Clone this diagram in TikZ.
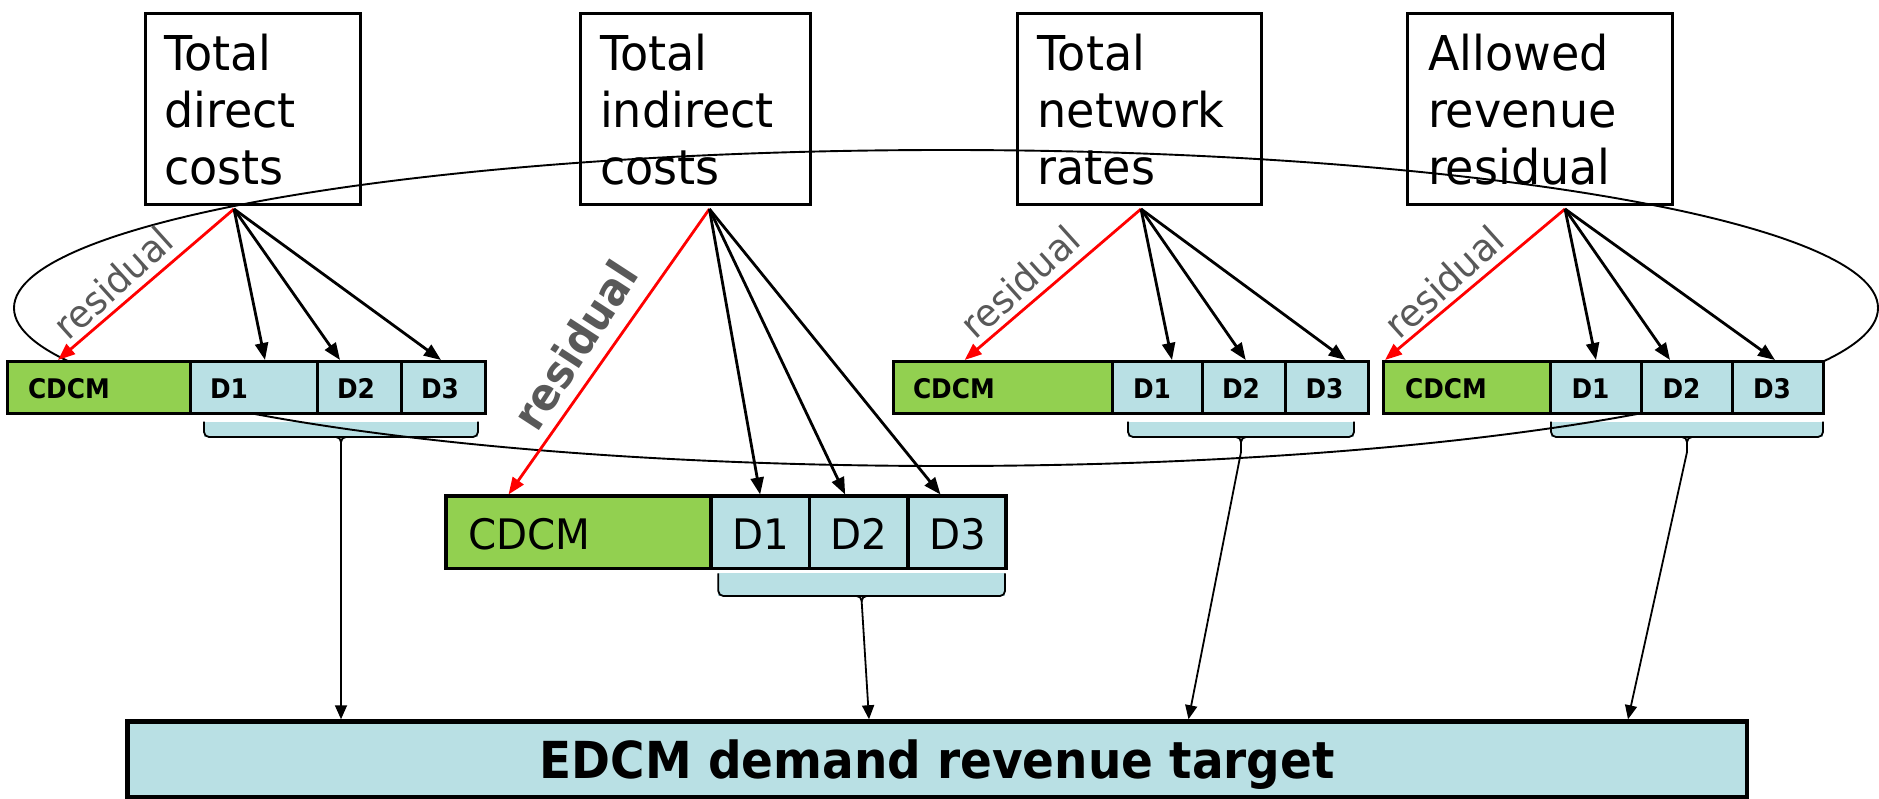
\documentclass[tikz,border=0pt]{standalone}
\usepackage{fontspec}
\setmainfont{DejaVu Sans}[UprightFeatures={FakeStretch=0.96}, BoldFeatures={FakeStretch=0.92}]
\usetikzlibrary{arrows.meta}
\definecolor{cellgreen}{RGB}{146,208,80}
\definecolor{cellblue}{RGB}{185,224,228}
\definecolor{labelgray}{RGB}{89,89,89}
\definecolor{arrowred}{RGB}{255,0,0}

\begin{document}
\begin{tikzpicture}[x=1pt,y=-1pt,
  costbox/.style={draw, line width=3pt, anchor=north west, outer sep=0pt,
    minimum height=191pt, inner ysep=0pt, align=left,
    font=\fontsize{48}{56.7}\selectfont},
  cell/.style={draw, anchor=north west, outer sep=0pt, inner ysep=0pt,
    align=left, text depth=0pt},
  smallbar/.style={cell, line width=3pt, minimum height=51.5pt,
    text height=22pt, font=\fontsize{27}{30}\selectfont\bfseries},
  bigbar/.style={cell, line width=3.2pt, minimum height=72.3pt,
    text height=33.7pt, font=\fontsize{42}{46}\selectfont},
  cdcm/.style={fill=cellgreen},
  dcell/.style={fill=cellblue},
  bracearea/.style={fill=cellblue, anchor=north west, outer sep=0pt, inner sep=0pt},
  bracket/.style={line width=1.8pt, rounded corners=5pt},
  fan/.style={line width=2.8pt, -{Triangle[length=17pt,width=13pt]}},
  resarrow/.style={fan, draw=arrowred, fill=arrowred},
  down/.style={line width=1.8pt, -{Triangle[length=14pt,width=12pt]}},
  smalllabel/.style={text=labelgray, inner sep=0pt, font=\fontsize{38}{42}\selectfont},
  biglabel/.style={text=labelgray, inner sep=0pt, font=\fontsize{45}{50}\selectfont\bfseries},
]
\useasboundingbox (0,0) rectangle (1879,799);

% cost sources along the top
\node[costbox, minimum width=215pt, text width=177pt, inner xsep=19pt] (box1) at (145,14) {Total\\direct\\costs};
\node[costbox, minimum width=230pt, text width=190pt, inner xsep=20pt] (box2) at (580,14) {Total\\indirect\\costs};
\node[costbox, minimum width=244pt, text width=203pt, inner xsep=20.5pt] (box3) at (1017,14) {Total\\network\\rates};
\node[costbox, minimum width=265pt, text width=223pt, inner xsep=21pt] (box4) at (1407,14) {Allowed\\revenue\\residual};

% shaded brackets under the D1--D3 cells
\node[bracearea, minimum width=274pt, minimum height=15.3pt] (br1) at (204,421.7) {};
\node[bracearea, minimum width=286.7pt, minimum height=22.7pt] (br2) at (718.3,573.3) {};
\node[bracearea, minimum width=226pt, minimum height=15.3pt] (br3) at (1128,421.7) {};
\node[bracearea, minimum width=272pt, minimum height=15.3pt] (br4) at (1551,421.7) {};
\foreach \b in {br1,br2,br3,br4}{
  \draw[bracket] (\b.north west) -- (\b.south west) -- (\b.south east) -- (\b.north east);
  \draw[line width=1.8pt] ([xshift=-5pt]\b.south) to[out=0,in=90] ([yshift=-5pt]\b.south)
        to[out=90,in=180] ([xshift=5pt]\b.south);
}

% loop tying the four allocations together
\draw[line width=1.9pt] (946,308) ellipse [x radius=932pt, y radius=158pt];

% allocation bars
\node[smallbar, cdcm, minimum width=183pt, text width=141pt, inner xsep=21pt] (b1c) at (7,361.5) {CDCM};
\node[smallbar, dcell, minimum width=127pt, text width=87pt, inner xsep=20pt] (b1d1) at (b1c.north east) {D1};
\node[smallbar, dcell, minimum width=84pt, text width=44pt, inner xsep=20pt] (b1d2) at (b1d1.north east) {D2};
\node[smallbar, dcell, minimum width=84pt, text width=44pt, inner xsep=20pt] (b1d3) at (b1d2.north east) {D3};

\node[bigbar, cdcm, minimum width=265pt, text width=221pt, inner xsep=22pt] (b2c) at (446,496) {CDCM};
\node[bigbar, dcell, minimum width=98.3pt, text width=56.3pt, inner xsep=21pt] (b2d1) at (b2c.north east) {D1};
\node[bigbar, dcell, minimum width=98.7pt, text width=56.7pt, inner xsep=21pt] (b2d2) at (b2d1.north east) {D2};
\node[bigbar, dcell, minimum width=98pt, text width=56pt, inner xsep=21pt] (b2d3) at (b2d2.north east) {D3};

\node[smallbar, cdcm, minimum width=219pt, text width=179pt, inner xsep=20pt] (b3c) at (893,361.5) {CDCM};
\node[smallbar, dcell, minimum width=90pt, text width=48pt, inner xsep=21pt] (b3d1) at (b3c.north east) {D1};
\node[smallbar, dcell, minimum width=83.5pt, text width=43.5pt, inner xsep=20pt] (b3d2) at (b3d1.north east) {D2};
\node[smallbar, dcell, minimum width=82.5pt, text width=42.5pt, inner xsep=20pt] (b3d3) at (b3d2.north east) {D3};

\node[smallbar, cdcm, minimum width=167pt, text width=124pt, inner xsep=21.5pt] (b4c) at (1383.5,361.5) {CDCM};
\node[smallbar, dcell, minimum width=91pt, text width=49pt, inner xsep=21pt] (b4d1) at (b4c.north east) {D1};
\node[smallbar, dcell, minimum width=90.5pt, text width=48.5pt, inner xsep=21pt] (b4d2) at (b4d1.north east) {D2};
\node[smallbar, dcell, minimum width=91.5pt, text width=49.5pt, inner xsep=21pt] (b4d3) at (b4d2.north east) {D3};

% demand revenue target
\node[draw, line width=4.5pt, fill=cellblue, anchor=north west, outer sep=0pt, inner sep=0pt,
      minimum width=1619.5pt, minimum height=76pt, text height=37.2pt, text depth=0pt,
      font=\fontsize{51}{56}\selectfont\bfseries] (edcm) at (127.5,721.5) {EDCM demand revenue target};

% fan origins under each source
\coordinate (f1) at ([xshift=-18.5pt,yshift=-4pt]box1.south);
\coordinate (f2) at ([xshift=14.4pt,yshift=-4pt]box2.south);
\coordinate (f3) at ([xshift=2pt,yshift=-4pt]box3.south);
\coordinate (f4) at ([xshift=25.5pt,yshift=-4pt]box4.south);

% allocations from each source
\draw[resarrow] (f1) -- ([xshift=-40.5pt,yshift=1.5pt]b1c.north);
\draw[fan] (f1) -- ([xshift=11.5pt,yshift=1.5pt]b1d1.north);
\draw[fan] (f1) -- ([xshift=-19pt,yshift=1.5pt]b1d2.north);
\draw[fan] (f1) -- ([xshift=-2pt,yshift=1.5pt]b1d3.north);

\draw[resarrow] (f2) -- ([xshift=-70pt,yshift=1.5pt]b2c.north);
\draw[fan] (f2) -- ([yshift=1.5pt]b2d1.north);
\draw[fan] (f2) -- ([xshift=-13.5pt,yshift=1.5pt]b2d2.north);
\draw[fan] (f2) -- ([xshift=-16.5pt,yshift=1.5pt]b2d3.north);

\draw[resarrow] (f3) -- ([xshift=-37.8pt,yshift=1.5pt]b3c.north);
\draw[fan] (f3) -- ([xshift=15pt,yshift=1.5pt]b3d1.north);
\draw[fan] (f3) -- ([xshift=2pt,yshift=1.5pt]b3d2.north);
\draw[fan] (f3) -- ([xshift=19pt,yshift=1.5pt]b3d3.north);

\draw[resarrow] (f4) -- ([xshift=-82pt,yshift=1.5pt]b4c.north);
\draw[fan] (f4) -- ([yshift=1.5pt]b4d1.north);
\draw[fan] (f4) -- ([xshift=-16.75pt,yshift=1.5pt]b4d2.north);
\draw[fan] (f4) -- ([xshift=-2.75pt,yshift=1.5pt]b4d3.north);

% bracketed totals into the revenue target
\draw[down] ([yshift=-5pt]br1.south) -- ([xshift=213.5pt,yshift=2.25pt]edcm.north west);
\draw[down] ([yshift=-5pt]br2.south) -- ([xshift=741.5pt,yshift=2.25pt]edcm.north west);
\draw[down] ([yshift=-5pt]br3.south) -- ++(0,10) -- ([xshift=1061pt,yshift=2.25pt]edcm.north west);
\draw[down] ([yshift=-5pt]br4.south) -- ++(0,10) -- ([xshift=1500.5pt,yshift=2.25pt]edcm.north west);

% residual labels
\node[smalllabel, rotate=42] (lab1) at (113,283) {residual};
\node[biglabel, rotate=57] (lab2) at (575,345) {residual};
\node[smalllabel, rotate=42] (lab3) at (1020,282) {residual};
\node[smalllabel, rotate=42] (lab4) at (1444,282) {residual};
\end{tikzpicture}
\end{document}
